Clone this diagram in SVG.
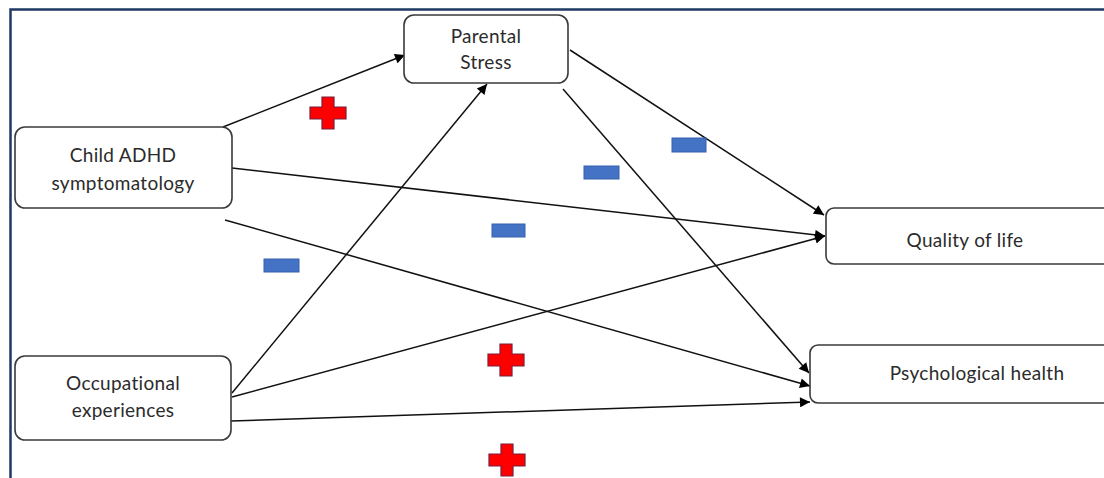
<svg xmlns="http://www.w3.org/2000/svg" width="1104" height="478" viewBox="0 0 1104 478">
<defs>
<style>
.box{fill:#fff;stroke:#3a3a3a;stroke-width:1.6}
.lbl{font-family:Lato,"Open Sans","Liberation Sans",sans-serif;font-size:19px;letter-spacing:0.3px;fill:#2b2b2b;text-anchor:middle}
.con{stroke:#111;stroke-width:1.5;fill:none;marker-end:url(#ah)}
.plus{fill:#ff0000;stroke:#7a1f3d;stroke-width:1.2}
.minus{fill:#4472c4;stroke:#3461b0;stroke-width:1}
</style>
<marker id="ah" viewBox="0 0 10 10" refX="10" refY="5" markerWidth="12" markerHeight="10" markerUnits="userSpaceOnUse" orient="auto">
<path d="M0,0 L10,5 L0,10 Z" fill="#000"/>
</marker>
<path id="plusShape" d="M-6,-16 H6 V-6 H18 V6 H6 V16 H-6 V6 H-18 V-6 H-6 Z"/>
</defs>
<rect width="1104" height="478" fill="#fff"/>
<g id="frame">
<path d="M10.5,478 V9.5 H1104" fill="none" stroke="#1f3864" stroke-width="2.5"/>
</g>
<g id="connectors">
<line class="con" x1="223" y1="127" x2="405" y2="55"/>
<line class="con" x1="232" y1="168" x2="825" y2="236"/>
<line class="con" x1="225" y1="220" x2="810" y2="386"/>
<line class="con" x1="232" y1="393" x2="487" y2="84"/>
<line class="con" x1="232" y1="397" x2="825" y2="236"/>
<line class="con" x1="231" y1="421" x2="810" y2="402"/>
<line class="con" x1="570" y1="50" x2="824" y2="215"/>
<line class="con" x1="563" y1="89" x2="809" y2="373"/>
</g>
<g id="parental-stress">
<rect class="box" x="404" y="15" width="164" height="68" rx="10"/>
<text class="lbl" x="486" y="43">Parental</text>
<text class="lbl" x="486" y="69">Stress</text>
</g>
<g id="child-adhd">
<rect class="box" x="15" y="127" width="217" height="81" rx="10"/>
<text class="lbl" x="123" y="162">Child ADHD</text>
<text class="lbl" x="123" y="190">symptomatology</text>
</g>
<g id="occupational">
<rect class="box" x="15" y="356" width="216" height="84" rx="10"/>
<text class="lbl" x="123" y="390">Occupational</text>
<text class="lbl" x="123" y="417">experiences</text>
</g>
<g id="quality-of-life">
<rect class="box" x="826" y="208" width="290" height="56" rx="8"/>
<text class="lbl" x="965" y="247">Quality of life</text>
</g>
<g id="psychological-health">
<rect class="box" x="810" y="345" width="310" height="58" rx="8"/>
<text class="lbl" x="977" y="380">Psychological health</text>
</g>
<g id="signs">
<use href="#plusShape" class="plus" x="328" y="113"/>
<use href="#plusShape" class="plus" x="506" y="360"/>
<use href="#plusShape" class="plus" x="507" y="460"/>
<rect class="minus" x="264" y="259" width="35" height="13"/>
<rect class="minus" x="492" y="224" width="33" height="13"/>
<rect class="minus" x="584" y="166" width="35" height="13"/>
<rect class="minus" x="672" y="138" width="34" height="14"/>
</g>
</svg>
